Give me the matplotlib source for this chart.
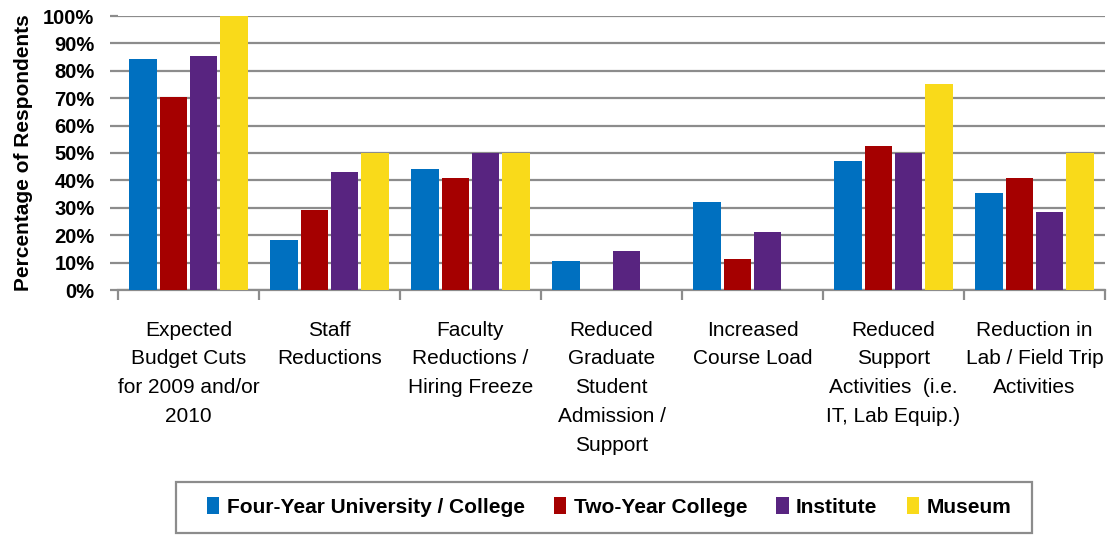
import matplotlib
matplotlib.use("Agg")
import matplotlib.pyplot as plt
import numpy as np
from matplotlib.ticker import PercentFormatter
from matplotlib.patches import Rectangle

plt.rcParams['font.family'] = ['Liberation Sans Narrow', 'Liberation Sans', 'DejaVu Sans']

categories = [
    "Expected\nBudget Cuts\nfor 2009 and/or\n2010",
    "Staff\nReductions",
    "Faculty\nReductions /\nHiring Freeze",
    "Reduced\nGraduate\nStudent\nAdmission /\nSupport",
    "Increased\nCourse Load",
    "Reduced\nSupport\nActivities  (i.e.\nIT, Lab Equip.)",
    "Reduction in\nLab / Field Trip\nActivities",
]
series_names = ["Four-Year University / College", "Two-Year College", "Institute", "Museum"]
four_year = [84.2, 18.2, 44.2, 10.7, 32.0, 47.0, 35.3]
two_year = [70.4, 29.2, 40.8, 0.0, 11.3, 52.5, 41.0]
institute = [85.5, 43.0, 50.0, 14.1, 21.0, 50.0, 28.5]
museum = [100.0, 50.0, 50.0, 0.0, 0.0, 75.0, 50.0]
colors = ["#0070C0", "#A50000", "#582480", "#F9DA1A"]
yticks = [0, 10, 20, 30, 40, 50, 60, 70, 80, 90, 100]

W, H = 1110, 535
fig = plt.figure(figsize=(W / 100, H / 100), dpi=100)
ax = fig.add_axes([118 / W, 1 - 290 / H, 987 / W, 274 / H])

x = np.arange(len(categories))
step = 0.213
width = 0.198
for i, (vals, name, c) in enumerate(zip([four_year, two_year, institute, museum], series_names, colors)):
    ax.bar(x + (i - 1.5) * step, vals, width=width, color=c, label=name, zorder=3)

ax.set_xlim(-0.5, len(categories) - 0.5)
ax.set_ylim(0, 100)
ax.set_yticks(yticks)
ax.yaxis.set_major_formatter(PercentFormatter(decimals=0))
ax.grid(axis='y', color='#8c8c8c', linewidth=1.6, zorder=0)
ax.set_axisbelow(True)
for s in ['top', 'right', 'left']:
    ax.spines[s].set_visible(False)
ax.spines['bottom'].set_color('#8c8c8c')
ax.spines['bottom'].set_linewidth(1.6)

ax.set_xticks(np.arange(len(categories) + 1) - 0.5, minor=False)
ax.set_xticklabels([])
ax.tick_params(axis='x', which='major', length=7, width=1.6, color='#8c8c8c')
ax.set_xticks(x, minor=True)
ax.set_xticklabels(categories, minor=True, fontsize=15, linespacing=1.65, va='top')
ax.tick_params(axis='x', which='minor', length=0, pad=22)
ax.tick_params(axis='y', length=6, width=1.6, color='#8c8c8c', labelsize=14.5, pad=11)
for lbl in ax.get_yticklabels():
    lbl.set_fontweight('bold')

ax.set_ylabel("Percentage of Respondents", fontsize=15, fontweight='bold', labelpad=7)

leg = fig.legend(loc='center', bbox_to_anchor=(609 / W, 1 - 507 / H), ncol=4,
                 frameon=False, handlelength=0.6, handleheight=0.9, handletextpad=0.35,
                 columnspacing=1.4, prop={'weight': 'bold', 'size': 15})

fig.patches.append(Rectangle((176 / W, 1 - 533 / H), 856 / W, 51 / H, transform=fig.transFigure,
                             fill=False, edgecolor='#8c8c8c', linewidth=1.6))

fig.savefig("out.png", dpi=100)
